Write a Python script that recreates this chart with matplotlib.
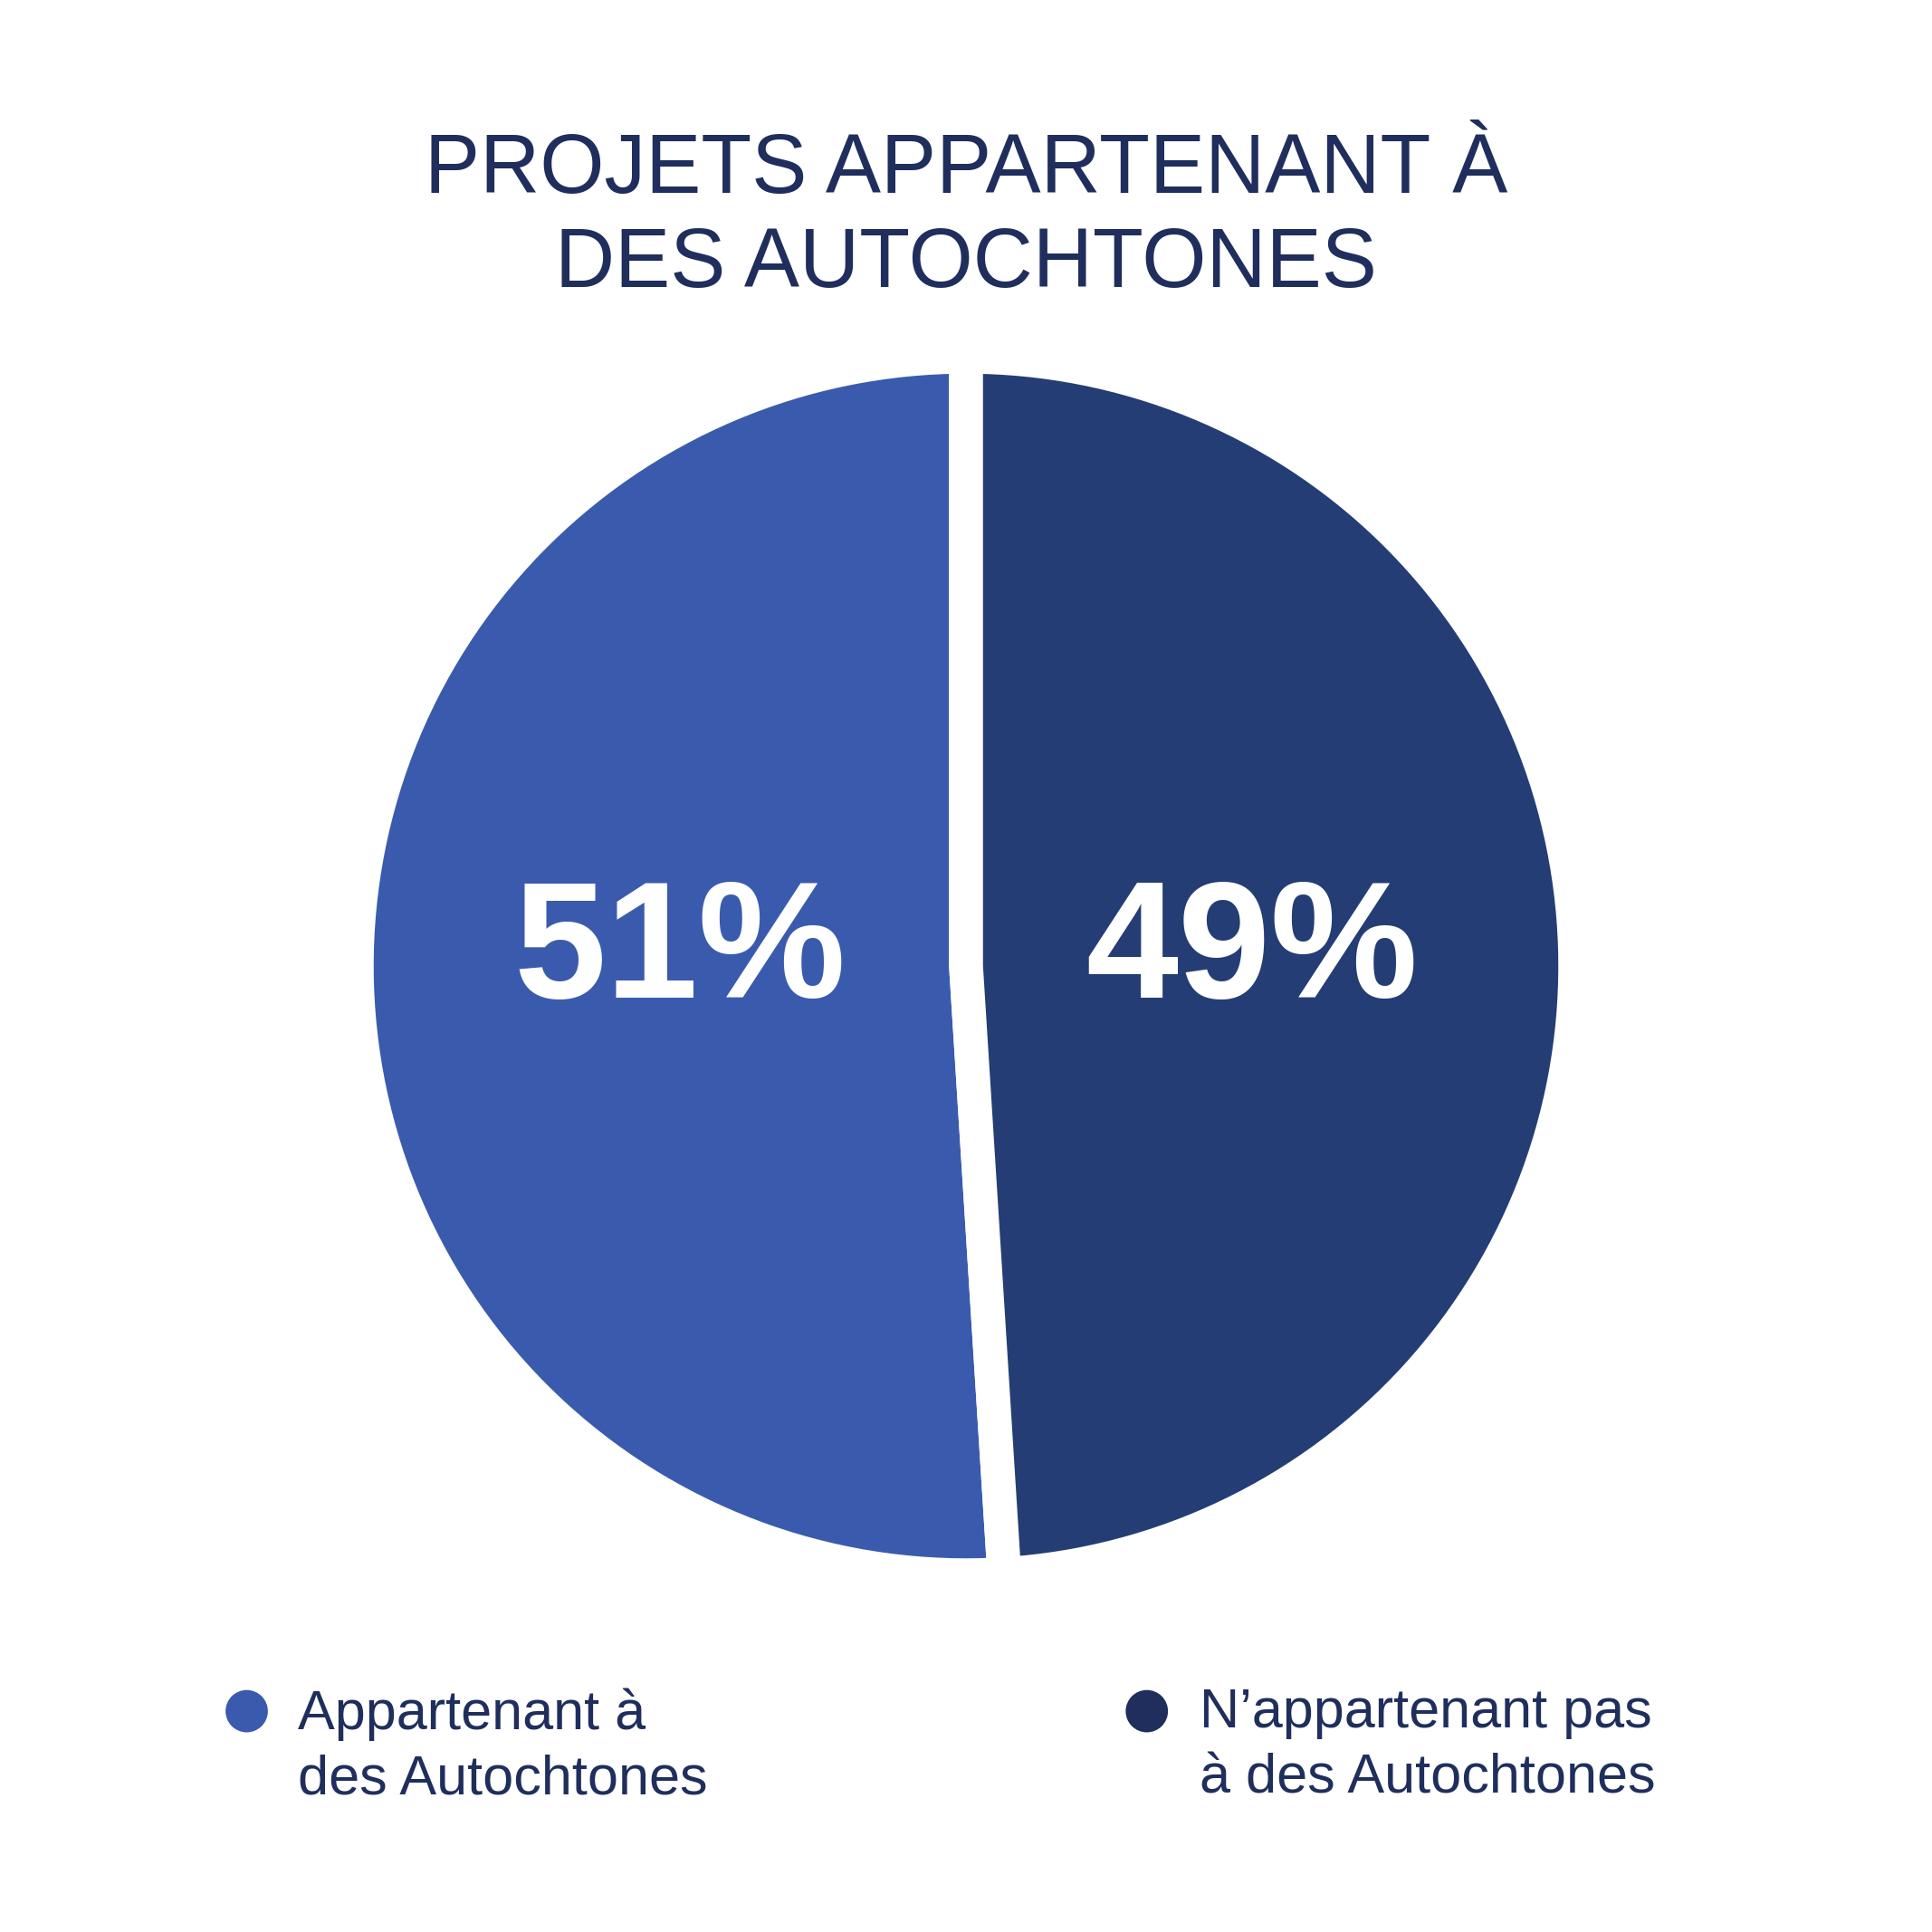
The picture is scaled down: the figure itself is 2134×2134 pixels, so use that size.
import matplotlib.pyplot as plt

plt.rcParams['font.family'] = ['Liberation Sans', 'DejaVu Sans']

title = "PROJETS APPARTENANT À\nDES AUTOCHTONES"
categories = ["Appartenant à\ndes Autochtones", "N’appartenant pas\nà des Autochtones"]
shares = [51, 49]
pie_colors = ["#3a5bad", "#243d75"]
legend_colors = ["#3a5bad", "#1f2e5c"]
text_color = "#1f2e5c"

S = 2134
fig = plt.figure(figsize=(S / 200, S / 200), dpi=200)
ax = fig.add_axes([0, 0, 1, 1])

edge_lw = 13.5
wedges, texts, autotexts = ax.pie(
    shares, colors=pie_colors, startangle=90, counterclock=True,
    center=(S / 2, S / 2), radius=673, frame=True,
    autopct=lambda p: f"{p:.0f}%", pctdistance=0.47,
    wedgeprops=dict(edgecolor='white', linewidth=edge_lw),
    textprops=dict(color='white', fontsize=66, fontweight='bold'))
# both percentages sit on the same line
for t in autotexts:
    t.set_y(S / 2 + 13)
ax.set_xlim(0, S)
ax.set_ylim(0, S)
ax.set_aspect('equal')
ax.axis('off')

fig.text(0.5, 0.8872, title, ha='center', va='center', fontsize=33,
         color=text_color, linespacing=1.265)

marker_x = [0.1277, 0.5936]
text_x = [0.1543, 0.621]
for lab, col, mx, tx in zip(categories, legend_colors, marker_x, text_x):
    fig.patches.append(plt.Circle((mx, 0.1143), 0.0103, color=col,
                                  transform=fig.transFigure, figure=fig))
    fig.text(tx, 0.1265, lab, ha='left', va='top', fontsize=22,
             color=text_color, linespacing=1.35)

fig.savefig("out.png", dpi=200, facecolor='white')
